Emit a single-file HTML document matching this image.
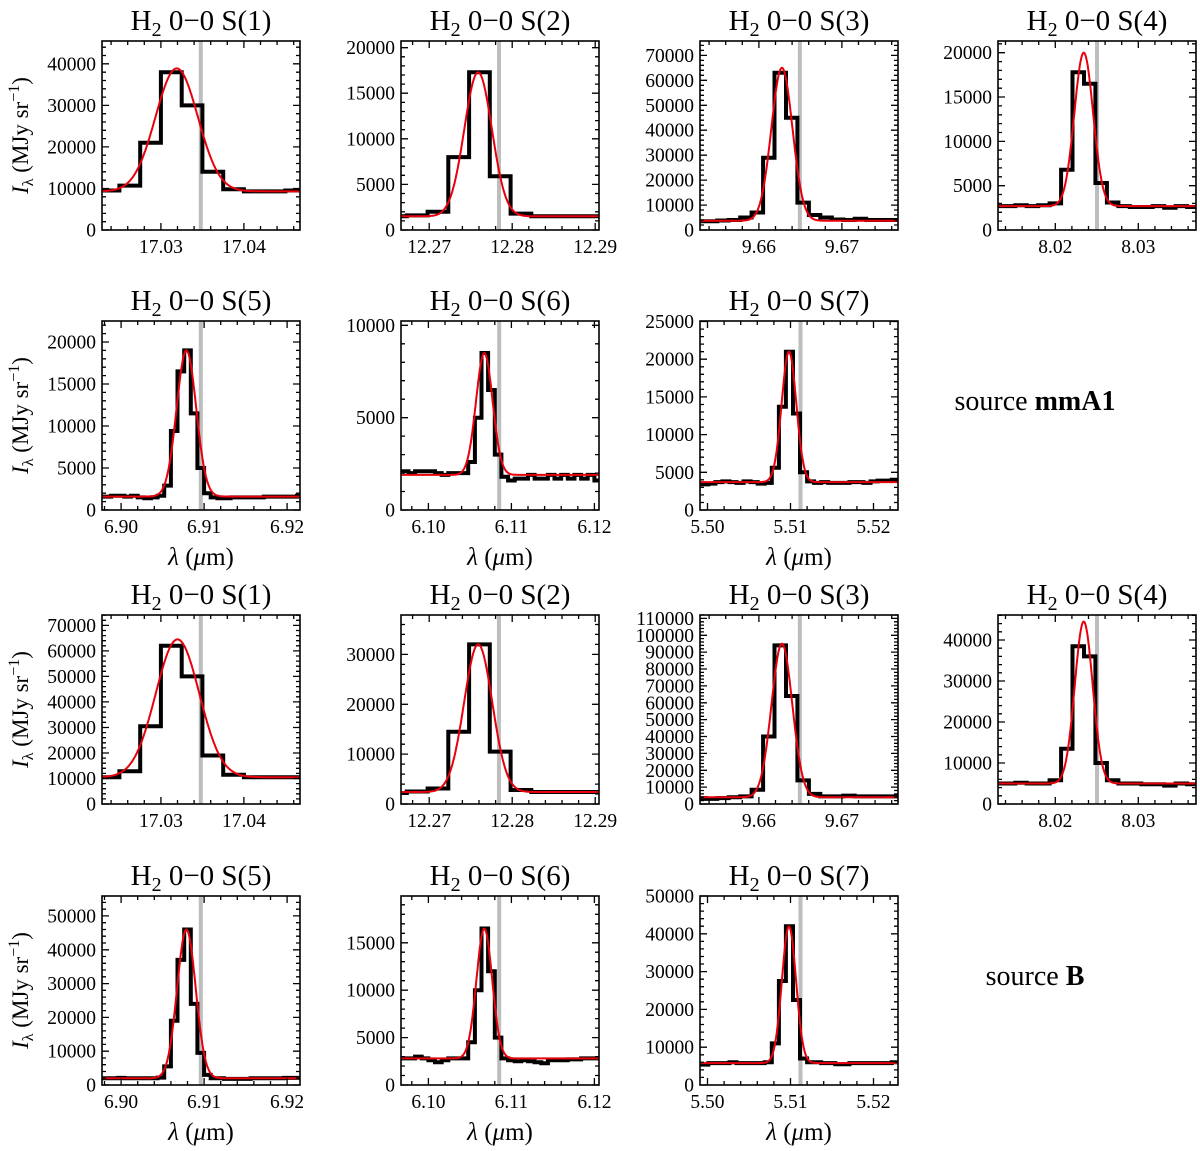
<!DOCTYPE html>
<html><head><meta charset="utf-8"><style>
body{margin:0;background:#fff;}
svg{display:block;font-family:"Liberation Serif",serif;}
</style></head><body>
<svg id="fig" width="1200" height="1151" viewBox="0 0 1200 1151" xmlns="http://www.w3.org/2000/svg">
<text x="1035" y="410" text-anchor="middle" font-size="28">source <tspan font-weight="bold">mmA1</tspan></text>
<text x="1035" y="985" text-anchor="middle" font-size="28">source <tspan font-weight="bold">B</tspan></text>
</svg>
<script>
// ---- data ----
const lineNames = ["1","2","3","4","5","6","7","1","2","3","4","5","6","7"];
const xMins = [17.0229,12.2666,9.6529,8.0131,6.8977,6.0967,5.4991,17.0229,12.2666,9.6529,8.0131,6.8977,6.0967,5.4991];
const yMaxes = [45500,20730,75760,21320,22500,10235,25070,74070,37900,112000,46100,55900,19930,50000];
const yMajor = [10000,5000,10000,5000,5000,5000,5000,10000,10000,10000,10000,10000,5000,10000];
const binStarts = [17.0225,12.2648,9.65222,8.01242,6.8972,6.096,5.4984,17.0225,12.2648,9.65222,8.01242,6.8972,6.096,5.4984];
const binWidths = [0.0025,0.0025,0.00138,0.00138,0.0008,0.0008,0.00085,0.0025,0.0025,0.00138,0.00138,0.0008,0.0008,0.00085];
const vals_mmA1_S1 = [9500,10700,21000,38000,30000,14000,9800,9300,9300,9500];
const vals_mmA1_S2 = [1500,1600,2000,8000,17300,5900,1800,1500,1500,1500,1500];
const vals_mmA1_S3 = [3500,3500,3800,4000,5000,7000,29000,63000,45000,11000,6000,5000,4200,4000,4500,4000,4000,4000];
const vals_mmA1_S4 = [2700,2700,2800,2700,2800,3000,6800,17800,16500,5300,3100,2700,2600,2600,2700,2500,2700,2600];
const vals_mmA1_S5 = [1600,1600,1700,1700,1600,1700,1500,1400,1500,1700,2900,9400,16500,19000,11500,5000,2000,1500,1400,1400,1500,1500,1500,1500,1500,1600,1600,1600,1600,1600,1700];
const vals_mmA1_S6 = [2100,2100,2000,2100,2100,2100,2000,1900,2000,2000,2000,2600,5000,8500,6500,3000,1800,1600,1700,1700,1900,1700,1700,1900,1700,1900,1700,1900,1700,1900,1600];
const vals_mmA1_S7 = [3500,3400,3500,3700,3800,3700,3600,3800,3700,3500,3600,5600,13700,21000,12800,5000,3800,3600,3700,3600,3600,3600,3700,3700,3600,3800,3900,3900,4000];
const vals_B_S1 = [10500,12800,30500,62000,50000,19000,11500,10500,10500,10500];
const vals_B_S2 = [2200,2500,3100,14500,32000,10500,2800,2400,2400,2400,2400];
const vals_B_S3 = [3500,3000,3500,4000,4500,8500,40000,94000,64000,14000,6000,4500,4500,5000,4500,4500,4500,4500];
const vals_B_S4 = [5000,5000,5200,5000,5000,5800,13500,38500,36000,10000,5800,5000,5000,4800,4800,4500,5000,4800];
const vals_B_S5 = [2000,2000,2000,2100,2000,2000,2000,2000,2000,2200,5500,19000,37000,46000,24000,9500,3000,2000,2000,1800,1800,1800,1800,2000,2000,2000,2000,2000,2100,2100,2100];
const vals_B_S6 = [2800,2800,2800,3000,2800,2600,2400,2600,2800,2800,2800,4500,10000,16500,12000,5000,2800,2600,2500,2600,2500,2400,2300,2600,2600,2600,2700,2700,2800,2800,2800];
const vals_B_S7 = [5500,5400,5800,5800,5800,6000,5800,5800,5800,5800,6000,11000,27500,42000,22500,7000,6000,6000,5800,5800,5500,5500,5800,5800,5800,5800,5800,5800,6000];
const allVals = [vals_mmA1_S1,vals_mmA1_S2,vals_mmA1_S3,vals_mmA1_S4,vals_mmA1_S5,vals_mmA1_S6,vals_mmA1_S7,vals_B_S1,vals_B_S2,vals_B_S3,vals_B_S4,vals_B_S5,vals_B_S6,vals_B_S7];
const gaussAmp = [29600,15800,61300,17300,17400,6600,17300,54000,29600,91000,39500,44000,13700,36200];
const gaussMu = [17.0319,12.27589,9.66277,8.02343,6.90787,6.10674,5.50982,17.0320,12.2759,9.66277,8.02343,6.90787,6.10674,5.50982];
const gaussSig = [0.00255,0.00166,0.00127,0.00113,0.00118,0.0010,0.00088,0.00263,0.0017,0.00125,0.00108,0.00112,0.00095,0.00085];
const gaussBase = [9300,1500,3700,2700,1600,1900,3700,10500,2400,4000,5000,2000,2800,5800];
const restLines = [17.0348,12.27841,9.66493,8.02503,6.9096,6.10853,5.51121,17.0348,12.2784,9.66493,8.02503,6.9096,6.10853,5.51121];

// ---- layout ----
const colX = [102,401,700,998];
const rowY = [41,321,615,896];
const BW = 198, BH = 189, XSPAN = 0.01*BW/83;
const panelRow = [0,0,0,0,1,1,1,2,2,2,2,3,3,3];
const panelCol = [0,1,2,3,0,1,2,0,1,2,3,0,1,2];
const NS = "http://www.w3.org/2000/svg";
const svg = document.getElementById("fig");
function mk(tag, attrs, parent){const e=document.createElementNS(NS,tag);for(const k in attrs)e.setAttribute(k,attrs[k]);(parent||svg).appendChild(e);return e;}

for(let p=0;p<14;p++){
  const L=colX[panelCol[p]], T=rowY[panelRow[p]];
  const xmin=xMins[p], xmax=xmin+XSPAN, ymax=yMaxes[p];
  const sx=v=>L+(v-xmin)/(xmax-xmin)*BW;
  const sy=v=>T+BH-(v/ymax)*BH;
  const g=mk("g",{});
  
  
  const cp=mk("clipPath",{id:"cp"+p},g);
  mk("rect",{x:L,y:T,width:BW,height:BH},cp);
  const t=mk("text",{x:L+BW/2,y:T-11,"text-anchor":"middle","font-size":"29"},g);
  
  
  t.innerHTML='H<tspan font-size="20" dy="6">2</tspan><tspan dy="-6"> 0−0 S('+lineNames[p]+')</tspan>';
  const vl=mk("line",{x1:sx(restLines[p]),x2:sx(restLines[p]),y1:T,y2:T+BH,stroke:"#bdbdbd","stroke-width":"4"},g);
  
  
  const vals=allVals[p], x0=binStarts[p], w=binWidths[p];
  let d="";
  for(let k=0;k<vals.length;k++){
    const xa=sx(x0+k*w), xb=sx(x0+(k+1)*w), y=sy(vals[k]);
    d+=(k===0?"M":"L")+xa.toFixed(1)+","+y.toFixed(1)+"L"+xb.toFixed(1)+","+y.toFixed(1);
  }
  const st=mk("path",{d:d,fill:"none",stroke:"#000","stroke-width":"4","stroke-linejoin":"miter","clip-path":"url(#cp"+p+")"},g);
  
  
  let gd="";
  for(let i=0;i<=300;i++){
    const x=xmin+(xmax-xmin)*i/300;
    const y=gaussBase[p]+gaussAmp[p]*Math.exp(-0.5*Math.pow((x-gaussMu[p])/gaussSig[p],2));
    gd+=(i?"L":"M")+sx(x).toFixed(1)+","+sy(y).toFixed(1);
  }
  const gf=mk("path",{d:gd,fill:"none",stroke:"#e8000b","stroke-width":"2","clip-path":"url(#cp"+p+")"},g);
  
  
  const bx=mk("rect",{x:L,y:T,width:BW,height:BH,fill:"none",stroke:"#000","stroke-width":"1.6"},g);
  
  
  let td="";
  const start=Math.ceil(xmin/0.002-1e-6);
  for(let k=start;k*0.002<=xmax+1e-9;k++){
    const X=sx(k*0.002); const major=(k%5===0); const len=major?7:4;
    td+="M"+X.toFixed(1)+","+(T+BH)+"v"+(-len)+"M"+X.toFixed(1)+","+T+"v"+len;
    if(major){
      const lb=mk("text",{x:X,y:T+BH+23,"text-anchor":"middle","font-size":"19.5"},g);
      
      
      lb.textContent=(k*0.002).toFixed(2);
    }
  }
  const ym=yMajor[p], yminor=ym/5;
  for(let k=0;k*yminor<=ymax+1e-6;k++){
    const v=k*yminor, Y=sy(v), major=(k%5===0), len=major?7:4;
    td+="M"+L+","+Y.toFixed(1)+"h"+len+"M"+(L+BW)+","+Y.toFixed(1)+"h"+(-len);
    if(major){
      const lb=mk("text",{x:L-6,y:Y+6.5,"text-anchor":"end","font-size":"19.5"},g);
      
      
      lb.textContent=String(v);
    }
  }
  const tk=mk("path",{d:td,stroke:"#000","stroke-width":"1.3",fill:"none"},g);
  
  
  if(panelCol[p]===0){
    const cy=T+BH/2;
    const yl=mk("text",{x:0,y:0,"text-anchor":"middle","font-size":"23",transform:"translate(28,"+cy+") rotate(-90)"},g);
    
    
    yl.innerHTML='<tspan font-style="italic">I</tspan><tspan font-size="16" dy="5">λ</tspan><tspan dy="-5"> (MJy sr</tspan><tspan font-size="16" dy="-9">−1</tspan><tspan dy="9">)</tspan>';
  }
  if(panelRow[p]===1||panelRow[p]===3){
    const xl=mk("text",{x:L+BW/2,y:T+BH+55,"text-anchor":"middle","font-size":"25"},g);
    
    
    xl.innerHTML='<tspan font-style="italic">λ</tspan> (<tspan font-style="italic">μ</tspan>m)';
  }
}
</script>
</body></html>
